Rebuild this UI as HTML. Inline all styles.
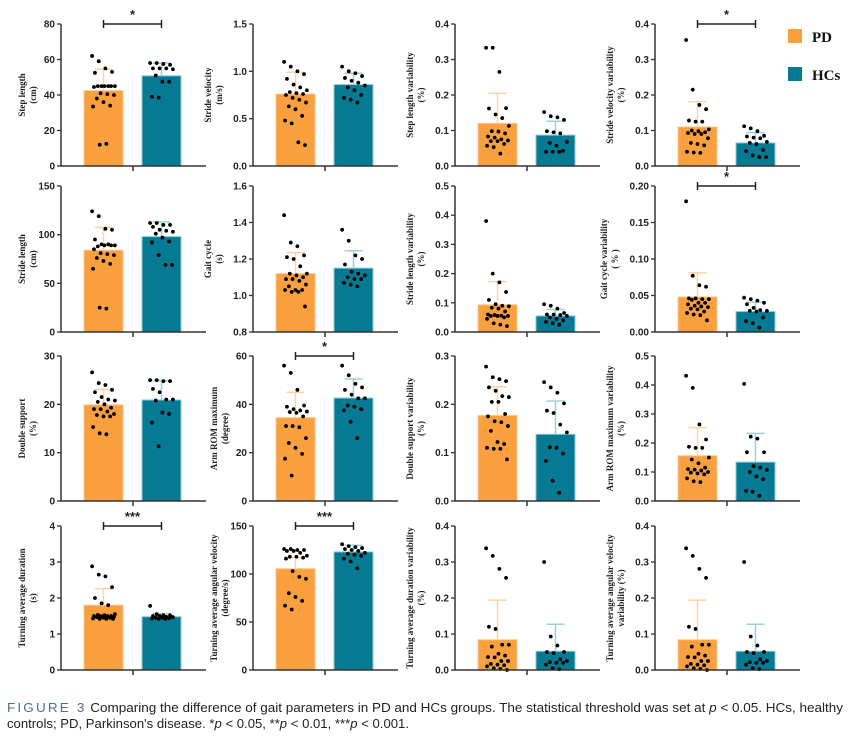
<!DOCTYPE html>
<html><head><meta charset="utf-8"><style>
html,body{margin:0;padding:0;background:#fff;}
svg{display:block;}
</style></head><body>
<svg id="fig" width="852" height="738" viewBox="0 0 852 738" xmlns="http://www.w3.org/2000/svg">
<g id="panels"></g>
<g>
  <rect x="788" y="29" width="14" height="14" fill="#FBA03F"/>
  <text x="812" y="42" font-family="Liberation Serif, serif" font-weight="bold" font-size="15" fill="#111">PD</text>
  <rect x="788" y="67" width="14" height="14" fill="#067A92"/>
  <text x="812" y="80" font-family="Liberation Serif, serif" font-weight="bold" font-size="15" fill="#111">HCs</text>
</g>
<g font-family="Liberation Sans, sans-serif" font-size="12.5" fill="#222">
  <text x="7" y="712" textLength="836" lengthAdjust="spacingAndGlyphs"><tspan fill="#4f6f8f" letter-spacing="2">FIGURE 3</tspan>   Comparing the difference of gait parameters in PD and HCs groups. The statistical threshold was set at <tspan font-style="italic">p</tspan> &lt; 0.05. HCs, healthy</text>
  <text x="7" y="728" textLength="402" lengthAdjust="spacingAndGlyphs">controls; PD, Parkinson's disease. *<tspan font-style="italic">p</tspan> &lt; 0.05, **<tspan font-style="italic">p</tspan> &lt; 0.01, ***<tspan font-style="italic">p</tspan> &lt; 0.001.</text>
</g>
</svg>
<script>
const yLabels1 = ["Step length","Stride velocity","Step length variability","Stride velocity variability","Stride length","Gait cycle","Stride length variability","Gait cycle variability","Double support","Arm ROM maximum","Double support variability","Arm ROM maximum variability","Turning average duration","Turning average angular velocity","Turning average duration variability","Turning average angular velocity"];
const yLabels2 = ["(cm)","(m/s)","(%)","(%)","(cm)","(s)","(%)","( % )","(%)","(degree)","(%)","(%)","(s)","(degree/s)","(%)","variability (%)"];
const yMin = [0,0,0,0, 0,0.8,0,0, 0,0,0,0, 0,0,0,0];
const yTicks = [
 ["0","20","40","60","80"],["0.0","0.5","1.0","1.5"],["0.0","0.1","0.2","0.3","0.4"],["0.0","0.1","0.2","0.3","0.4"],
 ["0","50","100","150"],["0.8","1.0","1.2","1.4","1.6"],["0.0","0.1","0.2","0.3","0.4","0.5"],["0.00","0.05","0.10","0.15","0.20"],
 ["0","10","20","30"],["0","20","40","60"],["0.0","0.1","0.2","0.3"],["0.0","0.1","0.2","0.3","0.4","0.5"],
 ["0","1","2","3","4"],["0","50","100","150"],["0.0","0.1","0.2","0.3","0.4"],["0.0","0.1","0.2","0.3","0.4"]];
const pdMean = [42.5,0.76,0.12,0.11, 84,1.12,0.093,0.048, 19.9,34.5,0.177,0.156, 1.8,105.5,0.084,0.084];
const hcMean = [50.8,0.86,0.087,0.065, 98,1.15,0.055,0.028, 20.9,42.6,0.138,0.134, 1.48,123,0.052,0.052];
const pdErr = [54.5,0.99,0.205,0.181, 107.5,1.235,0.172,0.081, 23.1,45,0.236,0.253, 2.26,117,0.194,0.194];
const hcErr = [58,0.98,0.126,0.094, 113,1.245,0.077,0.041, 24.9,50.5,0.207,0.233, 1.57,130,0.127,0.127];
const signif = ["*","","","*", "","","","*", "","*","","", "***","***","",""];
const pdDots = [
 [62,59,55,53,52.5,45,45,45,45,45,45,44.5,41,40.5,40,38,36,34,33.5,12,12.5],
 [1.10,1.05,1.0,0.97,0.92,0.86,0.83,0.80,0.78,0.77,0.76,0.75,0.72,0.70,0.67,0.63,0.60,0.53,0.48,0.45,0.25,0.22],
 [.333,.333,.265,.163,.162,.145,.135,.113,.098,.097,.092,.083,.08,.075,.072,.07,.07,.062,.057,.053,.035],
 [.355,.215,.172,.16,.128,.125,.125,.103,.10,.098,.095,.093,.09,.09,.078,.065,.062,.058,.04,.038,.037],
 [124,119,106,105,95,90,90,89,88,89,89,85,81,80,79,76,73,70,65,25,24],
 [1.44,1.29,1.27,1.22,1.21,1.20,1.16,1.12,1.12,1.11,1.10,1.09,1.09,1.08,1.06,1.05,1.03,1.03,1.03,1.02,1.02,0.94],
 [.38,.20,.17,.137,.11,.095,.09,.088,.083,.08,.07,.06,.058,.056,.055,.055,.055,.05,.045,.03,.025,.02],
 [.179,.077,.064,.062,.046,.046,.045,.045,.044,.040,.040,.038,.036,.035,.034,.032,.031,.028,.026,.024,.023,.016],
 [26.6,24.4,24,23,22.5,21.5,21,20.8,20.5,20,19.3,19,19,18.5,18,17.8,17.5,17.5,15.3,14,13.8],
 [56,53,46,39.5,39,38,37.5,37,36.8,36.5,35,31,31,30.5,26,24,22,19.5,17.5,10.5],
 [.278,.256,.252,.248,.235,.228,.217,.215,.205,.205,.18,.175,.165,.163,.155,.145,.122,.118,.11,.108,.108,.086],
 [.432,.39,.264,.212,.187,.183,.183,.15,.143,.13,.115,.11,.108,.105,.1,.098,.095,.092,.078,.068,.065],
 [2.88,2.65,2.6,2.3,2.0,1.85,1.8,1.55,1.53,1.52,1.5,1.5,1.5,1.5,1.48,1.47,1.45,1.45,1.43,1.42,1.42,1.42],
 [126,126,125,125,124,124,122,119,118,118,117,116,103,97,95,80,76,72,67,63],
 [.338,.317,.281,.256,.12,.114,.07,.07,.065,.045,.04,.036,.035,.025,.025,.017,.015,.013,.01,.005,.003,.0],
 [.338,.317,.281,.256,.12,.114,.07,.07,.065,.045,.04,.036,.035,.025,.025,.017,.015,.013,.01,.005,.003,.0]];
const hcDots = [
 [58,58,57.5,57,55,55,55,54.5,51,47.5,47.5,39,38.5],
 [1.05,1.0,0.98,0.95,0.93,0.90,0.88,0.85,0.83,0.80,0.75,0.72,0.70,0.67],
 [.152,.14,.137,.13,.098,.095,.092,.068,.065,.057,.043,.04,.04,.04],
 [.112,.106,.098,.085,.083,.08,.078,.068,.065,.062,.045,.042,.03,.025,.025],
 [112,112,110,110,108,105,104,103,101,97,93,92,79,69,69],
 [1.36,1.30,1.22,1.20,1.17,1.13,1.12,1.11,1.10,1.09,1.09,1.07,1.06,1.05],
 [.095,.09,.08,.065,.06,.06,.058,.055,.05,.045,.04,.035,.03,.025],
 [.047,.045,.043,.040,.038,.033,.030,.029,.029,.028,.020,.015,.012,.006],
 [25,25,24.8,24.8,23.2,22.5,21,21,20.8,18.3,18,16.2,11.3],
 [56,52,48.5,47,46,44,42.5,42.5,39.5,39,38,37.5,32.8,26],
 [.246,.235,.224,.202,.187,.182,.158,.142,.111,.11,.098,.083,.042,.017],
 [.404,.222,.215,.168,.168,.12,.115,.107,.1,.085,.075,.035,.032,.018],
 [1.78,1.55,1.52,1.52,1.5,1.5,1.48,1.47,1.45,1.45,1.44,1.43,1.42,1.42],
 [131,129,128,127,126,125,124,122,121,120,119,116,113,106],
 [.3,.093,.068,.05,.05,.047,.03,.025,.022,.02,.02,.015,.005,.002],
 [.3,.093,.068,.05,.05,.047,.03,.025,.022,.02,.02,.015,.005,.002]];

const NS="http://www.w3.org/2000/svg";
const colX=[61,253,455,655];
const rowTop=[24,186,356,526], rowZero=[166,332,501,670];
function mk(tag,attrs,parent){const e=document.createElementNS(NS,tag);for(const k in attrs)e.setAttribute(k,attrs[k]);parent.appendChild(e);return e;}
const root=document.getElementById('panels');
for(let p=0;p<16;p++){
  const c=p%4,r=Math.floor(p/4);
  const ax=colX[c], top=rowTop[r], zero=rowZero[r];
  const ticks=yTicks[p], lo=yMin[p], hi=parseFloat(ticks[ticks.length-1]);
  const y=v=>zero-(v-lo)/(hi-lo)*(zero-top);
  const g=mk('g',{},root);
  
  
  const pdC=ax+42.5, hcC=ax+100.5;
  // bars
  const b1=mk('rect',{x:ax+23,y:y(pdMean[p]),width:39,height:zero-y(pdMean[p]),fill:'#FBA03F',stroke:'#FDC58A','stroke-width':1},g);
  
  
  const b2=mk('rect',{x:ax+81,y:y(hcMean[p]),width:39,height:zero-y(hcMean[p]),fill:'#067A92',stroke:'#8CC9D6','stroke-width':1},g);
  
  
  // error bars
  [[pdC,pdMean[p],pdErr[p],'#FDD3A4'],[hcC,hcMean[p],hcErr[p],'#9DD0DC']].forEach(([cx,m,e,col])=>{
    const eb=mk('path',{d:`M${cx},${y(m)}V${y(e)}M${cx-9},${y(e)}H${cx+9}`,stroke:col,'stroke-width':1.5,fill:'none'},g);
    
    
  });
  // dots
  [[pdC,pdDots[p]],[hcC,hcDots[p]]].forEach(([cx,arr])=>{
    arr.forEach((v,i)=>{
      const off=((i*7)%25)-12;
      const d=mk('circle',{cx:cx+off*0.95,cy:y(v),r:1.9,fill:'#000'},g);
      
      
    });
  });
  // axes
  const axl=mk('path',{d:`M${ax},${top}V${zero}H${ax+145}M${ax+72},${zero}V${zero+5}`,stroke:'#333','stroke-width':1.5,fill:'none'},g);
  
  
  ticks.forEach(t=>{
    const ty=y(parseFloat(t));
    mk('path',{d:`M${ax-4},${ty}H${ax}`,stroke:'#333','stroke-width':1.3},g);
    const tl=mk('text',{x:ax-6,y:ty+3.5,'text-anchor':'end','font-family':'Liberation Sans, sans-serif','font-weight':'bold','font-size':10,fill:'#222'},g);
    tl.textContent=t;
    
    
  });
  // y title
  const tx=ax-(ticks[0].length>=4?46:ticks[0].length>=3?40:34), ty=(top+zero)/2;
  const yt=mk('text',{transform:`translate(${tx},${ty}) rotate(-90)`,'text-anchor':'middle','font-family':'Liberation Serif, serif','font-weight':'bold','font-size':9,fill:'#222'},g);
  
  
  const s1=mk('tspan',{x:0,dy:-2},yt);s1.textContent=yLabels1[p];
  const s2=mk('tspan',{x:0,dy:11},yt);s2.textContent=yLabels2[p];
  // significance
  if(signif[p]){
    const br=mk('path',{d:`M${pdC},${top+4}V${top-4}M${pdC},${top}H${hcC}M${hcC},${top+4}V${top-4}`,stroke:'#222','stroke-width':1.5,fill:'none'},g);
    
    
    const st=mk('text',{x:(pdC+hcC)/2,y:top-5,'text-anchor':'middle','font-family':'Liberation Sans, sans-serif','font-weight':'bold','font-size':13,fill:'#222'},g);
    st.textContent=signif[p];
    
    
  }
}
</script>
</body></html>
